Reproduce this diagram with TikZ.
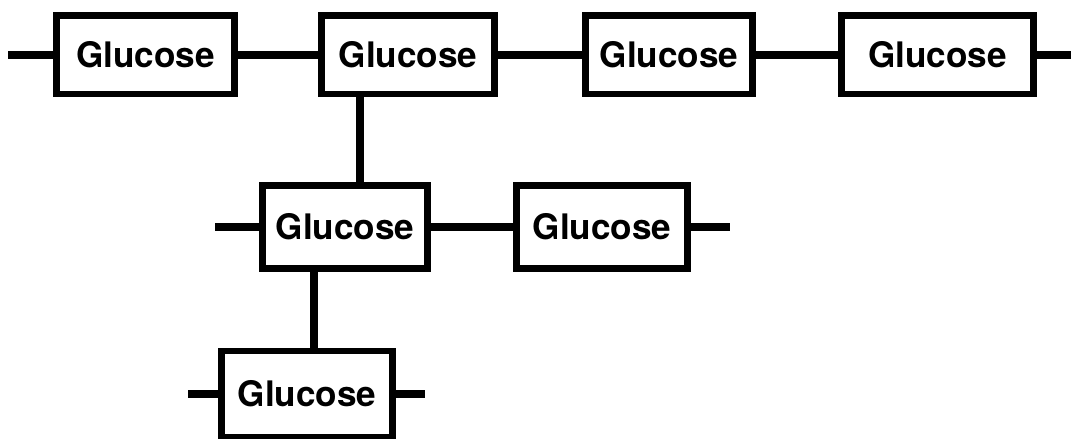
\documentclass[tikz,border=0pt]{standalone}
\usepackage{fontspec}
\setmainfont{TeX Gyre Heros}
\usepackage{tikz}
\usetikzlibrary{positioning}

\begin{document}
\begin{tikzpicture}
		\tikzset{
		    glc/.style= {rectangle, draw=black, line width=3.7pt, minimum height=1.57cm, inner sep=0pt, font=\fontsize{20}{22}\selectfont\bfseries},
		    bond/.style= {draw=black, line width=4.5pt},
		}
		
		\fill[white] (0,0) rectangle (21.42,-8.78);
		\clip (0,0) rectangle (21.42,-8.78);
		
		% main chain
		\node[glc, minimum width=3.56cm] (g1) at (2.91,-1.10) {Glucose};
		\node[glc, minimum width=3.46cm] (g2) at (8.16,-1.10) {Glucose};
		\node[glc, minimum width=3.34cm] (g3) at (13.38,-1.10) {Glucose};
		\node[glc, minimum width=3.84cm] (g4) at (18.75,-1.10) {Glucose};
		
		% branches
		\node[glc, minimum width=3.30cm, minimum height=1.66cm] (g5) at (6.90,-4.54) {Glucose};
		\node[glc, minimum width=3.42cm, minimum height=1.66cm] (g6) at (12.04,-4.54) {Glucose};
		\node[glc, minimum width=3.42cm, minimum height=1.72cm] (g7) at (6.14,-7.88) {Glucose};
		
		\coordinate (a1) at (0.16,-1.10);
		\coordinate (a2) at (21.42,-1.10);
		\coordinate (b1) at (4.30,-4.54);
		\coordinate (b2) at (14.60,-4.54);
		\coordinate (c1) at (3.76,-7.88);
		\coordinate (c2) at (8.50,-7.88);
		
		\draw[bond]
		(a1) -- (g1)
		(g1) -- (g2)
		(g2) -- (g3)
		(g3) -- (g4)
		(g4) -- (a2)
		(b1) -- (g5)
		(g5) -- (g6)
		(g6) -- (b2)
		(c1) -- (g7)
		(g7) -- (c2);
		
		\draw[bond] ([xshift=0.83cm]g2.south west) -- ([xshift=0.83cm]g2.south west |- g5.north);
		\draw[bond] ([xshift=1.09cm]g5.south west) -- ([xshift=1.09cm]g5.south west |- g7.north);
	\end{tikzpicture}
\end{document}
